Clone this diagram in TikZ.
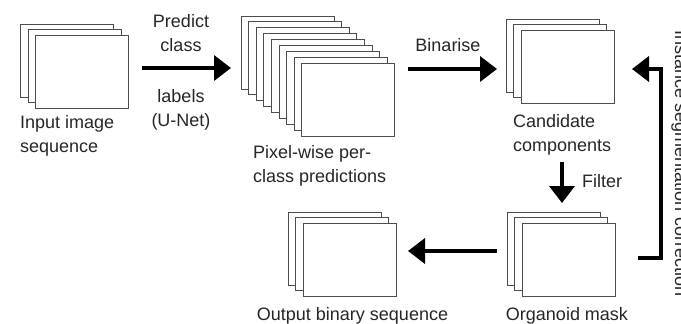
\documentclass[tikz,border=0pt]{standalone}
\usepackage{fontspec}
\setmainfont{Liberation Sans}
\usetikzlibrary{arrows.meta}
\tikzset{
  imgbox/.style={draw=black!70, line width=1pt, fill=white, minimum width=93pt, minimum height=73pt, inner sep=0pt, outer sep=0pt, anchor=north west},
  lbl/.style={font=\fontsize{18}{24}\selectfont, inner sep=0pt, text=black!85},
  flow/.style={line width=3.6pt, -{Triangle[length=17pt,width=25pt]}}
}
\newcommand{\imgstack}[4]{%
  \foreach \k in {1,...,#4} {
    \node[imgbox] (#1-\k) at ({#2+(\k-1)*7.6},{#3+(\k-1)*5.9}) {};
  }%
}
\begin{document}
\begin{tikzpicture}[x=1pt,y=-1pt]
\useasboundingbox (0,0) rectangle (681,324);
% stacks
\imgstack{in}{20.5}{24}{3}
\imgstack{px}{241}{16}{9}
\imgstack{cand}{506}{19}{3}
\imgstack{org}{507}{212}{3}
\imgstack{out}{288}{212}{3}
% labels (multi-line nodes: base = baseline of last line)
\node[lbl, anchor=base west, align=left] (tin) at (20,152) {Input image\\sequence};
\node[lbl, anchor=base, align=center] (tpred) at (181,51) {Predict\\class};
\node[lbl, anchor=base, align=center] (tlab) at (181,126) {labels\\(U-Net)};
\node[lbl, anchor=base west, align=left] (tpx) at (253,182) {Pixel-wise per-\\class predictions};
\node[lbl, anchor=base] (tbin) at (448,51) {Binarise};
\node[lbl, anchor=base west, align=left] (tcand) at (513,151) {Candidate\\components};
\node[lbl, anchor=base west] (tfil) at (582,187) {Filter};
\node[lbl, anchor=base] (torg) at (567,320) {Organoid mask};
\node[lbl, anchor=base] (tout) at (352.5,320) {Output binary sequence};
\node[lbl, anchor=base, rotate=-90] (tcorr) at (675,163.5) {Instance segmentation correction};
% connector end points
\coordinate (a1s) at (142,68);  \coordinate (a1e) at (231,68);
\coordinate (a2s) at (408,69);  \coordinate (a2e) at (497,69);
\coordinate (a3s) at (562,162); \coordinate (a3e) at (562,203);
\coordinate (a4s) at (497,251); \coordinate (a4e) at (408,251);
\coordinate (fbs) at (638,258); \coordinate (fbc1) at (661,258);
\coordinate (fbc2) at (661,69); \coordinate (fbe) at (632,69);
% connectors
\draw[flow] (a1s) -- (a1e);
\draw[flow] (a2s) -- (a2e);
\draw[flow] (a3s) -- (a3e);
\draw[flow] (a4s) -- (a4e);
\draw[flow] (fbs) -- (fbc1) -- (fbc2) -- (fbe);
\end{tikzpicture}
\end{document}
